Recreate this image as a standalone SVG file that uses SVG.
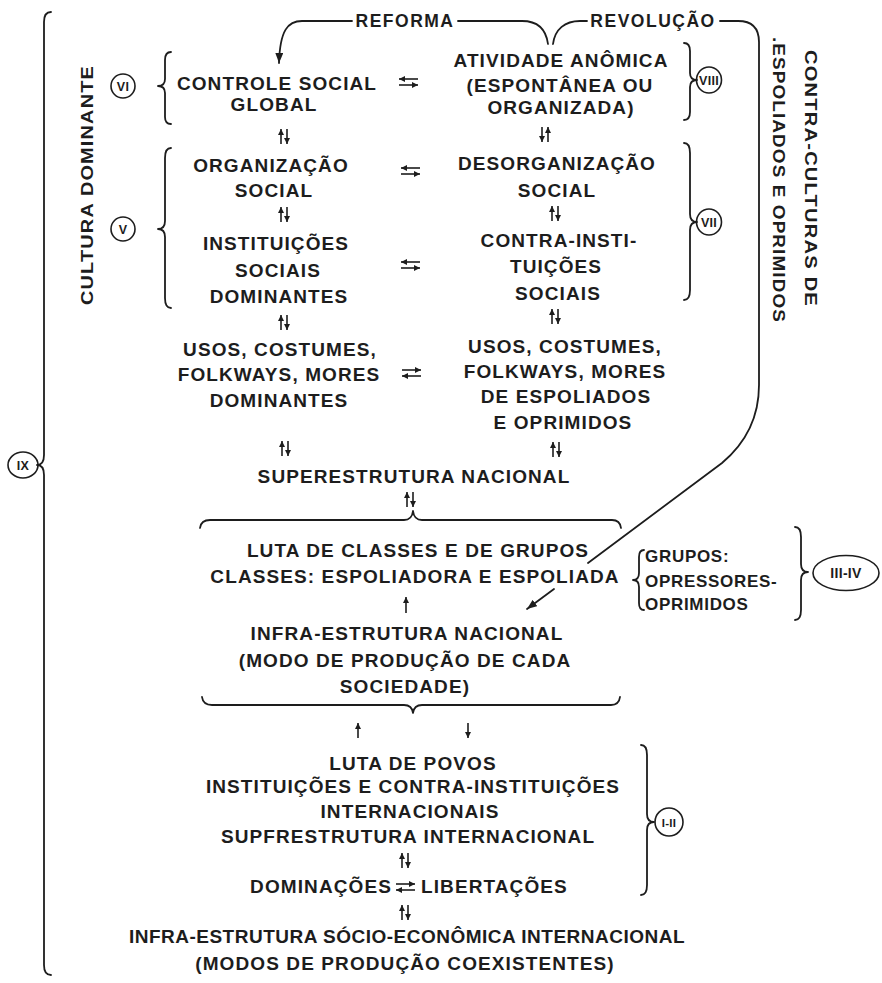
<svg xmlns="http://www.w3.org/2000/svg" width="882" height="983" viewBox="0 0 882 983">
<style>
.t{font-family:"Liberation Sans",Arial,sans-serif;font-weight:bold;font-size:19px;letter-spacing:1.1px;fill:#1d1d1d;text-anchor:middle}
.lbl{font-size:17.5px;letter-spacing:1.5px}
.grp{font-size:17px;letter-spacing:0.7px;text-anchor:start}
.vt{font-size:17px;letter-spacing:1px;text-anchor:start}
.ct{font-size:12.5px;letter-spacing:0.3px}
.br{fill:none;stroke:#1d1d1d;stroke-width:1.8;stroke-linecap:round;stroke-linejoin:round}
.ln{fill:none;stroke:#1d1d1d;stroke-width:1.8;stroke-linecap:round}
.sa{fill:none;stroke:#1d1d1d;stroke-width:1.6;marker-end:url(#sm)}
.c{fill:none;stroke:#1d1d1d;stroke-width:1.6}
</style>
<defs>
<marker id="sm" viewBox="0 0 6 6" refX="6" refY="3" markerWidth="6" markerHeight="6" markerUnits="userSpaceOnUse" orient="auto"><path d="M0,0 L6,3 L0,6 z" fill="#1d1d1d"/></marker>
<marker id="bm" viewBox="0 0 10 8" refX="10" refY="4" markerWidth="10" markerHeight="8" markerUnits="userSpaceOnUse" orient="auto"><path d="M0,0 L10,4 L0,8 z" fill="#1d1d1d"/></marker>
</defs>
<rect width="882" height="983" fill="#fff"/>

<g id="connectors">
  <!-- Reforma -->
  <path class="ln" d="M548,44 C546,29 538,21 522,21 L458,21"/>
  <path class="ln" d="M352,21 L302,21 C288,21 280,30 279,63" style="marker-end:url(#bm)"/>
  <text class="t lbl" x="405" y="27">REFORMA</text>
  <!-- Revolução -->
  <path class="ln" d="M553,44 C555,29 565,21 580,21 L587,21"/>
  <path class="ln" d="M720,21 L738,21 Q759,21 759,42 L759,385 Q759,432 722,463 L588,563"/>
  <path class="ln" d="M554,589 L527,609" style="marker-end:url(#bm)"/>
  <text class="t lbl" x="653" y="27">REVOLUÇÃO</text>

  <!-- horizontal pairs -->
  <path class="sa" d="M418,79 L399,79"/><path class="sa" d="M399,85 L418,85"/>
  <path class="sa" d="M420,168 L401,168"/><path class="sa" d="M401,174 L420,174"/>
  <path class="sa" d="M420,262 L401,262"/><path class="sa" d="M401,268 L420,268"/>
  <path class="sa" d="M402,370 L421,370"/><path class="sa" d="M421,376 L402,376"/>
  <path class="sa" d="M396,884 L415,884"/><path class="sa" d="M415,890 L396,890"/>

  <!-- vertical pairs -->
  <path class="sa" d="M281,144 L281,129"/><path class="sa" d="M287,129 L287,144"/>
  <path class="sa" d="M542,127 L542,142"/><path class="sa" d="M548,142 L548,127"/>
  <path class="sa" d="M281,222 L281,207"/><path class="sa" d="M287,207 L287,222"/>
  <path class="sa" d="M552,221 L552,206"/><path class="sa" d="M558,206 L558,221"/>
  <path class="sa" d="M281,330 L281,315"/><path class="sa" d="M287,315 L287,330"/>
  <path class="sa" d="M552,324 L552,309"/><path class="sa" d="M558,309 L558,324"/>
  <path class="sa" d="M282,456 L282,441"/><path class="sa" d="M288,441 L288,456"/>
  <path class="sa" d="M553,457 L553,442"/><path class="sa" d="M559,442 L559,457"/>
  <path class="sa" d="M407,507 L407,492"/><path class="sa" d="M413,492 L413,507"/>
  <path class="sa" d="M406,613 L406,597"/>
  <path class="sa" d="M358,738 L358,723"/>
  <path class="sa" d="M468,723 L468,738"/>
  <path class="sa" d="M402,868 L402,853"/><path class="sa" d="M408,853 L408,868"/>
  <path class="sa" d="M402,920 L402,905"/><path class="sa" d="M408,905 L408,920"/>
</g>

<g id="ix">
  <path class="br" d="M51,12 Q44,12 44,22 L44,455 Q44,465 37,465 Q44,465 44,475 L44,965 Q44,975 51,975"/>
  <ellipse class="c" cx="23" cy="465" rx="15" ry="13"/>
  <text class="t ct" x="23" y="470">IX</text>
</g>

<g id="cultura-dominante">
  <text class="t vt" transform="translate(93,305) rotate(-90)" textLength="240" lengthAdjust="spacingAndGlyphs">CULTURA DOMINANTE</text>
</g>

<g id="contra-culturas">
  <text class="t vt" transform="translate(805,50) rotate(90)" textLength="257" lengthAdjust="spacingAndGlyphs">CONTRA-CULTURAS DE</text>
  <text class="t vt" transform="translate(773,37) rotate(90)" textLength="286" lengthAdjust="spacingAndGlyphs">.ESPOLIADOS E OPRIMIDOS</text>
</g>

<g id="controle-social">
  <ellipse class="c" cx="123" cy="86" rx="12" ry="12"/>
  <text class="t ct" x="123" y="91">VI</text>
  <path class="br" d="M171,52 Q165,52 165,60 L165,79 Q165,86 158,86 Q165,86 165,93 L165,117 Q165,124 171,124"/>
  <text class="t" x="277" y="90">CONTROLE SOCIAL</text>
  <text class="t" x="274" y="111">GLOBAL</text>
</g>

<g id="atividade-anomica">
  <text class="t" x="561" y="67">ATIVIDADE ANÔMICA</text>
  <text class="t" x="560" y="92">(ESPONTÂNEA OU</text>
  <text class="t" x="561" y="114">ORGANIZADA)</text>
  <path class="br" d="M684,43 Q690,43 690,51 L690,73 Q690,80 697,80 Q690,80 690,87 L690,112 Q690,120 684,120"/>
  <ellipse class="c" cx="709" cy="80" rx="12.5" ry="13"/>
  <text class="t ct" x="709" y="85">VIII</text>
</g>

<g id="cultura-dominante-v">
  <ellipse class="c" cx="123" cy="229" rx="12" ry="12"/>
  <text class="t ct" x="123" y="234">V</text>
  <path class="br" d="M171,148 Q165,148 165,158 L165,221 Q165,229 158,229 Q165,229 165,237 L165,298 Q165,308 171,308"/>
</g>

<g id="organizacao-social">
  <text class="t" x="271" y="172">ORGANIZAÇÃO</text>
  <text class="t" x="274" y="197">SOCIAL</text>
</g>

<g id="instituicoes-sociais">
  <text class="t" x="276" y="250">INSTITUIÇÕES</text>
  <text class="t" x="278" y="277">SOCIAIS</text>
  <text class="t" x="279" y="303">DOMINANTES</text>
</g>

<g id="desorganizacao-social">
  <text class="t" x="557" y="170">DESORGANIZAÇÃO</text>
  <text class="t" x="557" y="197">SOCIAL</text>
</g>

<g id="contra-instituicoes">
  <text class="t" x="559" y="247">CONTRA-INSTI-</text>
  <text class="t" x="556" y="273">TUIÇÕES</text>
  <text class="t" x="558" y="300">SOCIAIS</text>
</g>

<g id="vii">
  <path class="br" d="M684,143 Q690,143 690,153 L690,214 Q690,222 697,222 Q690,222 690,230 L690,290 Q690,300 684,300"/>
  <ellipse class="c" cx="709" cy="222" rx="12.5" ry="13"/>
  <text class="t ct" x="709" y="227">VII</text>
</g>

<g id="usos-dominantes">
  <text class="t" x="280" y="356">USOS, COSTUMES,</text>
  <text class="t" x="279" y="381">FOLKWAYS, MORES</text>
  <text class="t" x="279" y="407">DOMINANTES</text>
</g>

<g id="usos-espoliados">
  <text class="t" x="565" y="353">USOS, COSTUMES,</text>
  <text class="t" x="565" y="378">FOLKWAYS, MORES</text>
  <text class="t" x="566" y="403">DE ESPOLIADOS</text>
  <text class="t" x="563" y="429">E OPRIMIDOS</text>
</g>

<g id="superestrutura-nacional">
  <text class="t" x="414" y="483">SUPERESTRUTURA NACIONAL</text>
</g>

<g id="luta-classes">
  <path class="br" d="M200,528 Q201,520 210,520 L404,520 Q412,520 413,511 Q414,520 422,520 L612,520 Q620,520 621,528"/>
  <text class="t" x="418" y="557">LUTA DE CLASSES E DE GRUPOS</text>
  <text class="t" x="415" y="583">CLASSES: ESPOLIADORA E ESPOLIADA</text>
</g>

<g id="grupos">
  <path class="br" d="M644,550 Q639,550 639,557 L639,573 Q639,580 633,580 Q639,580 639,587 L639,603 Q639,610 644,610"/>
  <text class="t grp" x="645" y="562">GRUPOS:</text>
  <text class="t grp" x="645" y="587">OPRESSORES-</text>
  <text class="t grp" x="645" y="610">OPRIMIDOS</text>
  <path class="br" d="M795,527 Q801,527 801,537 L801,564 Q801,572 808,572 Q801,572 801,580 L801,610 Q801,620 795,620"/>
  <ellipse class="c" cx="846" cy="573" rx="33" ry="17.5"/>
  <text class="t ct" x="846" y="578" style="font-size:14px">III-IV</text>
</g>

<g id="infra-nacional">
  <text class="t" x="407" y="640">INFRA-ESTRUTURA NACIONAL</text>
  <text class="t" x="405" y="667">(MODO DE PRODUÇÃO DE CADA</text>
  <text class="t" x="405" y="693">SOCIEDADE)</text>
  <path class="br" d="M202,697 Q203,705 212,705 L404,705 Q412,705 413,713 Q414,705 422,705 L611,705 Q619,705 620,697"/>
</g>

<g id="internacional">
  <text class="t" x="413" y="770">LUTA DE POVOS</text>
  <text class="t" x="413" y="793">INSTITUIÇÕES E CONTRA-INSTITUIÇÕES</text>
  <text class="t" x="410" y="818">INTERNACIONAIS</text>
  <text class="t" x="408" y="843">SUPFRESTRUTURA INTERNACIONAL</text>
  <text class="t" x="392" y="893" style="text-anchor:end">DOMINAÇÕES</text>
  <text class="t" x="421" y="893" style="text-anchor:start">LIBERTAÇÕES</text>
  <path class="br" d="M641,745 Q647,745 647,755 L647,814 Q647,822 654,822 Q647,822 647,830 L647,885 Q647,895 641,895"/>
  <ellipse class="c" cx="669" cy="822" rx="14" ry="14"/>
  <text class="t ct" x="669" y="827" style="font-size:11.5px">I-II</text>
</g>

<g id="infra-internacional">
  <text class="t" x="407" y="943" style="letter-spacing:0.5px">INFRA-ESTRUTURA SÓCIO-ECONÔMICA INTERNACIONAL</text>
  <text class="t" x="405" y="970">(MODOS DE PRODUÇÃO COEXISTENTES)</text>
</g>
</svg>
